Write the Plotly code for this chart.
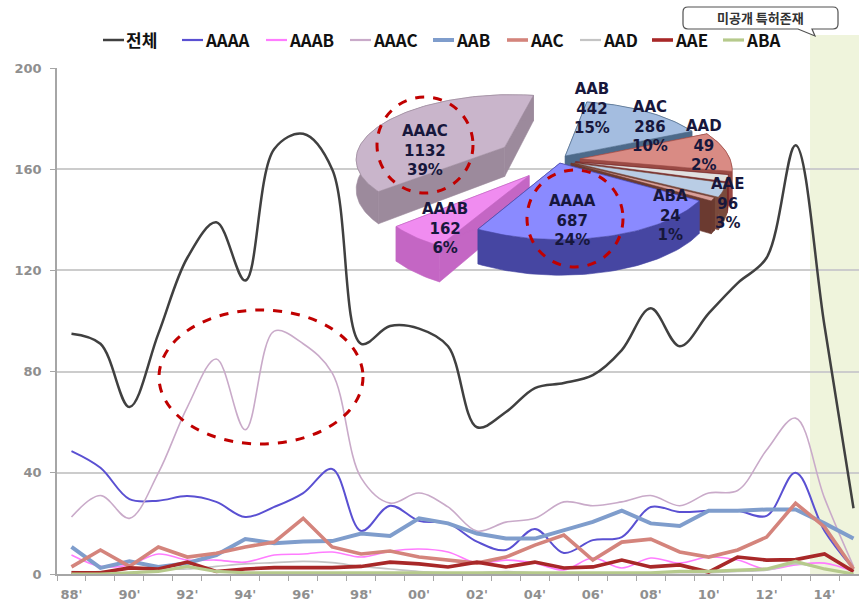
import math
import numpy as np
import plotly.graph_objects as go

# ---------------- data ----------------
years = list(range(1988, 2016))
tick_years = list(range(1988, 2015, 2))
tick_text = ["88'", "90'", "92'", "94'", "96'", "98'", "00'", "02'", "04'", "06'", "08'", "10'", "12'", "14'"]
y_ticks = [0, 40, 80, 120, 160, 200]

series_names = ["전체", "AAAA", "AAAB", "AAAC", "AAB", "AAC", "AAD", "AAE", "ABA"]

total = [95, 91, 66, 95, 125, 139, 116, 168, 174, 160, 91, 98, 97, 90, 58, 64, 73.5, 75.5, 78.6, 88.5,
         105, 90, 103, 115, 125, 169.5, 98, 26]
aaaa = [48.6, 42, 29.6, 29, 30.8, 28.5, 22.5, 26.5, 32, 41.5, 17, 27, 21, 20, 12.8, 9.5, 17.8, 8.3, 13.4, 14.6,
        26.5, 24.5, 25, 25, 23, 40, 17, 2]
aaab = [7.5, 3, 3.6, 7.9, 5.5, 5.5, 4.7, 7.5, 7.9, 8.7, 6.7, 9, 9.9, 8.7, 4.3, 5.5, 4.3, 1.6, 6.3, 2.4,
        6.3, 4.3, 6.7, 5.5, 1.9, 3.6, 4.3, 1]
aaac = [22.5, 31, 22, 40, 66, 85, 57, 96, 91, 79.5, 38, 28, 32, 26.5, 17, 20.5, 22, 28.5, 27, 28.5,
        31, 27, 32, 33, 49, 61.6, 30, 3]
aab = [10.7, 2.4, 5, 2.8, 4.3, 7.5, 13.8, 12.2, 12.8, 13, 16, 15, 22, 20, 16, 14, 14, 17.4, 20.6, 25,
       20, 19, 25, 25, 25.5, 25.5, 20, 14]
aac = [2.8, 9.5, 3, 10.7, 6.7, 8.2, 10.7, 12.6, 22, 10.7, 7.9, 9.1, 6.7, 5.5, 4.3, 6.7, 11.4, 15.4, 5.5, 12.6,
       13.8, 8.7, 6.7, 9.5, 14.6, 28, 18.6, 2]
aad = [1, 1, 2, 2, 2, 3, 4, 4.5, 5, 4.5, 3, 2, 1, 0.5, 0.5, 1, 0.5, 0.5, 0.5, 0.5,
       0.5, 0.5, 0.5, 1, 1.5, 4, 2, 0]
aae = [0.5, 0.5, 2.4, 2, 4.7, 1, 2, 2.5, 2.5, 2.5, 3, 4.7, 4, 2.8, 4.7, 2.8, 4.7, 2.4, 2.8, 5.5,
       2.8, 3.6, 0.8, 6.7, 5.5, 5.7, 7.9, 1]
aba = [0, 0, 0.5, 1, 3, 1, 0.5, 0.5, 0.5, 0.5, 0.5, 0.5, 0.5, 0.5, 0.5, 0.5, 0.5, 0.5, 0.5, 0.5,
       0.5, 1, 1, 1.5, 2, 5, 2, 0]

# pie: cumulative counts, clockwise from the first-slice angle
pie_names = ["AAB", "AAC", "AAD", "AAE", "ABA", "AAAA", "AAAB", "AAAC"]
pie_values = [442, 286, 49, 96, 24, 687, 162, 1132]

shade_from = 2013.5
callout_text = "미공개 특허존재"

# ---------------- styles ----------------
W, H = 859, 604
M_L, M_R, M_T, M_B = 57, 0, 68, 30
X_LO, X_HI = 1987.5, 2015.19

LINE_STYLE = {
    "전체": ("#404040", 2.5, "spline"),
    "AAAA": ("#5a50d2", 2.0, "spline"),
    "AAAB": ("#ff7cff", 1.6, "spline"),
    "AAAC": ("#c9aac9", 1.6, "spline"),
    "AAB": ("#7f9dcc", 4.0, "linear"),
    "AAC": ("#d4847c", 3.6, "linear"),
    "AAD": ("#c4c4c4", 1.6, "spline"),
    "AAE": ("#a82828", 3.6, "linear"),
    "ABA": ("#b6ca8c", 3.2, "linear"),
}
LEGEND_X = [103, 182, 266, 350, 433, 507, 580, 652, 723]
LEGEND_Y = 40

PIE_CX, PIE_CY = 558, 160
PIE_RX, PIE_RY, PIE_DEPTH, PIE_PERSP = 150, 64, 30, 0.15
PIE_START_DEG = 10
PIE_EXPLODE = {"AAB": 0.08, "AAC": 0.15, "AAD": 0.12, "AAE": 0.12, "ABA": 0.1,
               "AAAA": 0.05, "AAAB": 0.3, "AAAC": 0.42}
PIE_TOP = {"AAB": "#a4bde0", "AAC": "#d98b84", "AAD": "#e0e0e0", "AAE": "#b9cde5", "ABA": "#d9a09a",
           "AAAA": "#8a8aff", "AAAB": "#f08cf0", "AAAC": "#c9b5cb"}
PIE_SIDE = {"AAB": "#4d6a8a", "AAC": "#9a4a44", "AAD": "#7a2a2a", "AAE": "#7a4a3c", "ABA": "#6b3a30",
            "AAAA": "#4646a2", "AAAB": "#c466c4", "AAAC": "#9c8a9c"}
PIE_LABEL_POS = {"AAB": (592, 108), "AAC": (650, 126), "AAD": (704, 145), "AAE": (727, 203),
                 "ABA": (670, 215), "AAAA": (572, 220), "AAAB": (445, 228), "AAAC": (425, 150)}
RING_COLOR = "#c00000"
GRAY = "#8f8f8f"


def xp(px):
    return (px - M_L) / (W - M_L - M_R)


def yp(py):
    return (H - M_B - py) / (H - M_T - M_B)


fig = go.Figure()

# ---------------- line series ----------------
series_values = [total, aaaa, aaab, aaac, aab, aac, aad, aae, aba]
for name, vals in zip(series_names, series_values):
    color, width, shape = LINE_STYLE[name]
    fig.add_trace(go.Scatter(
        x=years, y=vals, mode="lines", name=name,
        line=dict(color=color, width=width, shape=shape, smoothing=1.0),
        showlegend=False, hoverinfo="skip"))

# ---------------- exploded 3D pie ----------------
def project(X, Z, drop=0.0):
    X = np.asarray(X, dtype=float)
    Z = np.asarray(Z, dtype=float)
    f = 1.0 / (1.0 - PIE_PERSP * Z)
    return PIE_CX + PIE_RX * X * f, PIE_CY + (PIE_RY * Z + drop) * f


pie_total = sum(pie_values)
slices = []
acc = 0
start = math.radians(PIE_START_DEG)
for name, v in zip(pie_names, pie_values):
    a0 = start + 2 * math.pi * acc / pie_total
    a1 = start + 2 * math.pi * (acc + v) / pie_total
    acc += v
    mid = 0.5 * (a0 + a1)
    e = PIE_EXPLODE[name]
    slices.append(dict(name=name, v=v, a0=a0, a1=a1, mid=mid,
                       ox=e * math.sin(mid), oz=-e * math.cos(mid)))


def poly(xs, ys, fill, line):
    fig.add_trace(go.Scatter(
        x=list(xs), y=list(ys), xaxis="x2", yaxis="y2", mode="lines",
        fill="toself", fillcolor=fill, line=dict(color=line, width=0.6),
        showlegend=False, hoverinfo="skip"))


for s in sorted(slices, key=lambda s: -math.cos(s["mid"])):
    n = max(8, int((s["a1"] - s["a0"]) / 0.025))
    th = np.linspace(s["a0"], s["a1"], n)
    X = s["ox"] + np.sin(th)
    Z = s["oz"] - np.cos(th)
    tx, ty = project(X, Z)
    bx, by = project(X, Z, PIE_DEPTH)
    cx0, cy0 = project(s["ox"], s["oz"])
    cx1, cy1 = project(s["ox"], s["oz"], PIE_DEPTH)
    side = PIE_SIDE[s["name"]]
    top = PIE_TOP[s["name"]]
    for k in (0, -1):
        poly([cx0, tx[k], bx[k], cx1, cx0], [cy0, ty[k], by[k], cy1, cy0], side, side)
    poly(list(tx) + list(bx[::-1]) + [tx[0]], list(ty) + list(by[::-1]) + [ty[0]], side, side)
    poly([cx0] + list(tx) + [cx0], [cy0] + list(ty) + [cy0], top, side)

annotations = []
for s in slices:
    pct = round(100 * s["v"] / pie_total)
    lx, ly = PIE_LABEL_POS[s["name"]]
    annotations.append(dict(
        x=lx, y=ly, xref="x2", yref="y2", showarrow=False,
        text=f"<b>{s['name']}<br>{s['v']}<br>{pct}%</b>",
        font=dict(family="DejaVu Sans", size=15, color="#17173c")))

# ---------------- shapes ----------------
shapes = []
# highlighted period (unpublished patents)
shapes.append(dict(type="rect", xref="paper", yref="paper", layer="below",
                   x0=(shade_from - X_LO) / (X_HI - X_LO), x1=1.0, y0=0, y1=yp(35),
                   fillcolor="#eff4dc", line=dict(width=0)))

# dashed rings
for (x0, y0, x1, y1) in [(159, 310, 363, 444), (377, 97, 473, 193), (527, 170, 623, 267)]:
    shapes.append(dict(type="circle", xref="x2", yref="y2", x0=x0, x1=x1, y0=y0, y1=y1,
                       line=dict(color=RING_COLOR, width=3, dash="dash")))

# callout box with tail
bl, br, bt, bb, r = 683, 838, 7, 29, 5
pts = [("M", bl + r, bt), ("L", br - r, bt), ("Q", br, bt, br, bt + r), ("L", br, bb - r),
       ("Q", br, bb, br - r, bb), ("L", 812, bb), ("L", 815, 36), ("L", 798, bb),
       ("L", bl + r, bb), ("Q", bl, bb, bl, bb - r), ("L", bl, bt + r), ("Q", bl, bt, bl + r, bt)]
path = ""
for p in pts:
    cmd, coords = p[0], p[1:]
    conv = []
    for i in range(0, len(coords), 2):
        conv.append(f"{xp(coords[i]):.5f},{yp(coords[i + 1]):.5f}")
    path += cmd + " " + " ".join(conv) + " "
path += "Z"
shapes.append(dict(type="path", xref="paper", yref="paper", path=path,
                   fillcolor="white", line=dict(color="#505050", width=1.2)))
annotations.append(dict(x=xp(760.5), y=yp(18), xref="paper", yref="paper", showarrow=False,
                        xanchor="center", yanchor="middle",
                        text=f"<b>{callout_text}</b>",
                        font=dict(family="Noto Sans CJK KR", size=13, color="#333333")))

# legend drawn as short line samples with labels
for name, lx in zip(series_names, LEGEND_X):
    color, width, _ = LINE_STYLE[name]
    shapes.append(dict(type="line", xref="paper", yref="paper",
                       x0=xp(lx), x1=xp(lx + 21), y0=yp(LEGEND_Y), y1=yp(LEGEND_Y),
                       line=dict(color=color, width=max(width, 2.2))))
    annotations.append(dict(x=xp(lx + 21), y=yp(LEGEND_Y - 1), xref="paper", yref="paper",
                            xanchor="left", yanchor="middle", showarrow=False,
                            text=f"<b>{name}</b>",
                            font=dict(family="Noto Sans CJK KR", size=17, color="#111111")))

tick_font = dict(family="DejaVu Sans", size=13, color=GRAY, weight="bold")

fig.update_layout(
    width=W, height=H,
    margin=dict(l=M_L, r=M_R, t=M_T, b=M_B),
    paper_bgcolor="white", plot_bgcolor="white",
    showlegend=False,
    shapes=shapes, annotations=annotations,
    xaxis=dict(range=[X_LO, X_HI], tickmode="array", tickvals=tick_years, ticktext=tick_text,
               ticks="", showgrid=False, zeroline=False, showline=True,
               linecolor="#a6a6a6", linewidth=1.5, ticklabelstandoff=8,
               tickfont=tick_font,
               minor=dict(tickmode="array", tickvals=[y - 0.5 for y in years] + [years[-1] + 0.5],
                          ticks="outside", ticklen=5, tickcolor="#a6a6a6", tickwidth=1,
                          showgrid=False)),
    yaxis=dict(range=[0, 200], tickmode="array", tickvals=y_ticks,
               showgrid=True, gridcolor="#cccccc", gridwidth=1.5, zeroline=False,
               showline=True, linecolor="#a6a6a6", linewidth=1.5,
               ticks="outside", ticklen=5, tickcolor="#a6a6a6", ticklabelstandoff=6,
               tickfont=tick_font),
    xaxis2=dict(overlaying="x", anchor="y2", range=[M_L, W - M_R], visible=False, fixedrange=True),
    yaxis2=dict(overlaying="y", anchor="x2", range=[H - M_B, M_T], visible=False, fixedrange=True),
)

fig.write_html("out.html")
